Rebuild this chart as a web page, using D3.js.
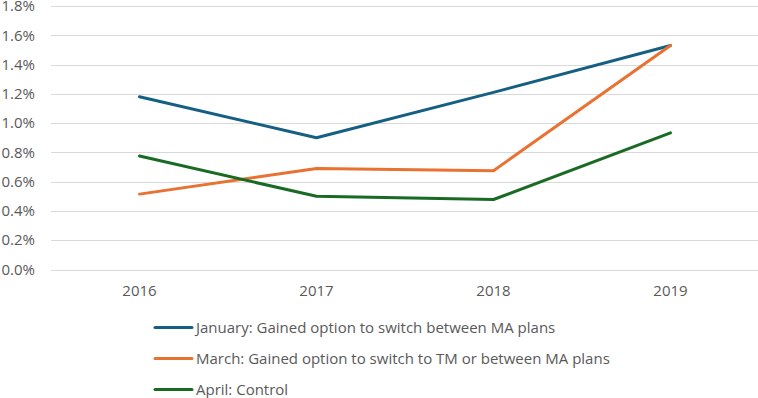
<!DOCTYPE html>
<html>
<head>
<meta charset="utf-8">
<script src="https://cdn.jsdelivr.net/npm/d3@7"></script>
<style>
  body { margin: 0; background: #fff; }
  svg { display: block; font-family: "Open Sans", "Liberation Sans", sans-serif; }
</style>
</head>
<body>
<svg id="chart" width="758" height="398"></svg>
<script>
// data
var years = ["2016", "2017", "2018", "2019"];
var january = [1.18, 0.90, 1.21, 1.53];
var march = [0.515, 0.69, 0.675, 1.53];
var april = [0.775, 0.50, 0.478, 0.933];
var yTicks = [0, 0.2, 0.4, 0.6, 0.8, 1.0, 1.2, 1.4, 1.6, 1.8];

var seriesNames = [
  "January: Gained option to switch between MA plans",
  "March: Gained option to switch to TM or between MA plans",
  "April: Control"
];
var seriesColors = ["#156082", "#E97132", "#196B24"];
var seriesValues = [january, march, april];

var svg = d3.select("#chart"),
  width = +svg.attr("width"),
  height = +svg.attr("height");

var plot = { left: 51, right: 759, top: 6, bottom: 269.5 };
var fontSize = "15px";

var x = d3.scaleBand()
  .domain(years)
  .range([plot.left, plot.right]);

var y = d3.scaleLinear()
  .domain([0, 1.8])
  .range([plot.bottom, plot.top]);

// gridlines
svg.append("g")
  .selectAll("line")
  .data(yTicks)
  .enter()
  .append("line")
    .attr("x1", plot.left)
    .attr("x2", width)
    .attr("y1", function(d) { return Math.round(y(d)) + 0.5; })
    .attr("y2", function(d) { return Math.round(y(d)) + 0.5; })
    .attr("stroke", "#d9d9d9")
    .attr("stroke-width", 1);

// y axis labels
svg.append("g")
  .selectAll("text")
  .data(yTicks)
  .enter()
  .append("text")
    .attr("x", 35)
    .attr("y", function(d) { return y(d); })
    .attr("dy", "0.35em")
    .attr("text-anchor", "end")
    .attr("fill", "#595959")
    .style("font-size", fontSize)
    .text(function(d) { return d.toFixed(1) + "%"; });

// x axis labels
svg.append("g")
  .selectAll("text")
  .data(years)
  .enter()
  .append("text")
    .attr("x", function(d) { return x(d) + x.bandwidth() / 2; })
    .attr("y", 291)
    .attr("dy", "0.35em")
    .attr("text-anchor", "middle")
    .attr("fill", "#595959")
    .style("font-size", fontSize)
    .text(function(d) { return d; });

// lines
var line = d3.line()
  .x(function(d, i) { return x(years[i]) + x.bandwidth() / 2; })
  .y(function(d) { return y(d); });

svg.append("g")
  .selectAll("path")
  .data(seriesValues)
  .enter()
  .append("path")
    .attr("d", line)
    .attr("fill", "none")
    .attr("stroke", function(d, i) { return seriesColors[i]; })
    .attr("stroke-width", 3)
    .attr("stroke-linejoin", "round")
    .attr("stroke-linecap", "round");

// legend
var legend = svg.append("g")
  .selectAll("g")
  .data(seriesNames)
  .enter()
  .append("g")
    .attr("transform", function(d, i) { return "translate(155," + (327.5 + i * 31) + ")"; });

legend.append("line")
  .attr("x1", 0)
  .attr("x2", 37)
  .attr("stroke", function(d, i) { return seriesColors[i]; })
  .attr("stroke-width", 3)
  .attr("stroke-linecap", "round");

legend.append("text")
  .attr("x", 41)
  .attr("dy", "0.35em")
  .attr("fill", "#595959")
  .style("font-size", fontSize)
  .text(function(d) { return d; });
</script>
</body>
</html>
